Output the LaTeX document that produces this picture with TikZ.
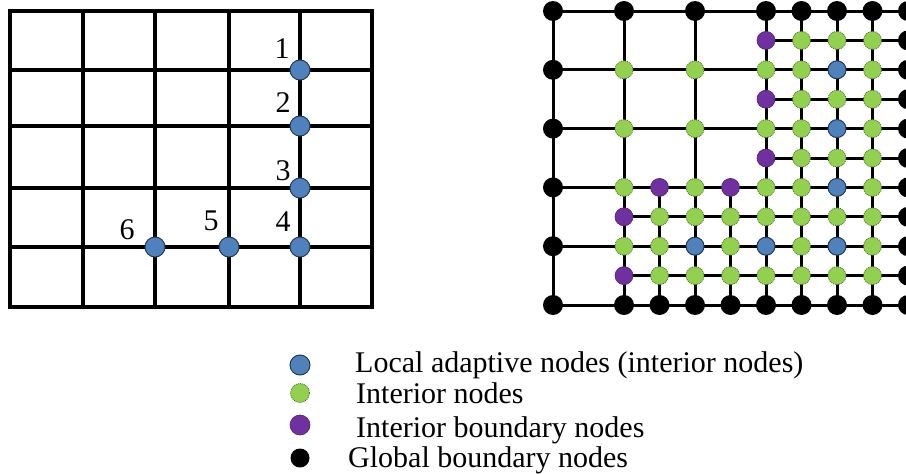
\documentclass[tikz,border=0pt]{standalone}
\usepackage{fontspec}
\setmainfont{Liberation Serif}
\definecolor{nblue}{HTML}{4F81BD}
\definecolor{ngreen}{HTML}{92D050}
\definecolor{npurple}{HTML}{7030A0}
\begin{document}
\begin{tikzpicture}[x=1pt,y=-1pt,
  gl/.style={line width=3.4pt,black},
  fl/.style={line width=3pt,black},
  bnode/.style={circle,inner sep=0pt,minimum size=18pt,fill=nblue,draw=nblue!45!black,line width=1pt},
  bignode/.style={bnode,minimum size=20pt},
  gnode/.style={circle,inner sep=0pt,minimum size=18pt,fill=ngreen,draw=ngreen!55!black,line width=0.8pt,dash pattern=on 1pt off 1pt},
  pnode/.style={circle,inner sep=0pt,minimum size=18pt,fill=npurple,draw=npurple!70!black,line width=0.6pt},
  knode/.style={circle,inner sep=0pt,minimum size=20pt,fill=black},
  lab/.style={inner sep=0pt,font=\fontsize{30}{34}\selectfont},
  legtext/.style={inner sep=0pt,anchor=base west,font=\fontsize{30}{34}\selectfont}]
\useasboundingbox (0,0) rectangle (906,474);
% ---------- left grid ----------
\foreach \x in {83,155,229,300} \draw[gl] (\x,11) -- (\x,307);
\foreach \y in {70,126,188,247} \draw[gl] (10,\y) -- (372,\y);
\draw[gl] (10,11) rectangle (372,307);
\node[bignode] (l1) at (300,70) {};
\node[bignode] (l2) at (300,126) {};
\node[bignode] (l3) at (300,188) {};
\node[bignode] (l4) at (300,247) {};
\node[bignode] (l5) at (229,247) {};
\node[bignode] (l6) at (155,247) {};
\node[lab] (t1) at (282,49) {1};
\node[lab] (t2) at (283,103) {2};
\node[lab] (t3) at (283,171) {3};
\node[lab] (t4) at (283,222) {4};
\node[lab] (t5) at (211,221) {5};
\node[lab] (t6) at (127,230) {6};
% ---------- right grid ----------
\begin{scope}
\clip (0,0) rectangle (906,474);
\foreach \j in {0,2,4,6,8,10} \draw[fl] ({553},{11+29.4*\j}) -- ({553+35.5*10},{11+29.4*\j});
\foreach \j in {1,3,5} \draw[fl] ({553+35.5*6},{11+29.4*\j}) -- ({553+35.5*10},{11+29.4*\j});
\foreach \j in {7,9} \draw[fl] ({553+35.5*2},{11+29.4*\j}) -- ({553+35.5*10},{11+29.4*\j});
\foreach \i in {0,2,4,6,7,8,9,10} \draw[fl] ({553+35.5*\i},11) -- ({553+35.5*\i},305);
\foreach \i in {3,5} \draw[fl] ({553+35.5*\i},{11+29.4*6}) -- ({553+35.5*\i},305);
% black nodes
\foreach \i/\j in {0/0,2/0,4/0,6/0,7/0,8/0,9/0,10/0,0/2,0/4,0/6,0/8,0/10,
  10/1,10/2,10/3,10/4,10/5,10/6,10/7,10/8,10/9,10/10,
  2/10,3/10,4/10,5/10,6/10,7/10,8/10,9/10}
  \node[knode] (r-\i-\j) at ({553+35.5*\i},{11+29.4*\j}) {};
% purple nodes
\foreach \i/\j in {6/1,6/3,6/5,3/6,5/6,2/7,2/9}
  \node[pnode] (r-\i-\j) at ({553+35.5*\i},{11+29.4*\j}) {};
% blue nodes
\foreach \i/\j in {8/2,8/4,8/6,4/8,6/8,8/8}
  \node[bnode] (r-\i-\j) at ({553+35.5*\i},{11+29.4*\j}) {};
% green nodes
\foreach \i/\j in {2/2,4/2,6/2,7/2,9/2,2/4,4/4,6/4,7/4,9/4,
  7/1,8/1,9/1,7/3,8/3,9/3,7/5,8/5,9/5,
  2/6,4/6,6/6,7/6,9/6,
  3/7,4/7,5/7,6/7,7/7,8/7,9/7,
  2/8,3/8,5/8,7/8,9/8,
  3/9,4/9,5/9,6/9,7/9,8/9,9/9}
  \node[gnode] (r-\i-\j) at ({553+35.5*\i},{11+29.4*\j}) {};
\end{scope}
% ---------- legend ----------
\node[bnode,minimum size=20pt] (k1) at (300,365) {};
\node[gnode,minimum size=19pt] (k2) at (300,393) {};
\node[pnode,minimum size=20pt] (k3) at (300,425) {};
\node[knode,minimum size=19pt] (k4) at (300,458) {};
\node[legtext] (e1) at (355,372) {Local adaptive nodes (interior nodes)};
\node[legtext] (e2) at (356,403) {Interior nodes};
\node[legtext] (e3) at (356,437) {Interior boundary nodes};
\node[legtext] (e4) at (348,467) {Global boundary nodes};
\end{tikzpicture}
\end{document}
